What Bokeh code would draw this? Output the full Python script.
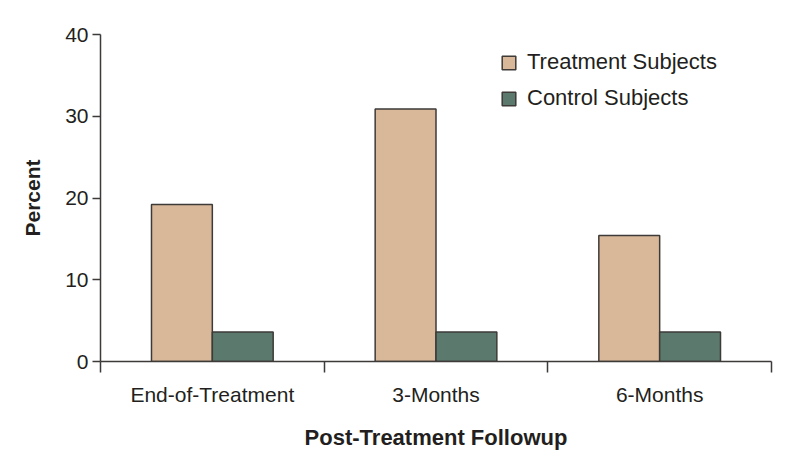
from bokeh.plotting import figure
from bokeh.models import FixedTicker, Legend, LegendItem, ColumnDataSource
from bokeh.embed import file_html
from bokeh.resources import INLINE

categories = ["End-of-Treatment", "3-Months", "6-Months"]
treatment = [19.2, 30.9, 15.4]
control = [3.6, 3.6, 3.6]
y_ticks = [0, 10, 20, 30, 40]

FONT = "Liberation Sans"
TAN = "#D8B898"
GREEN = "#5B796C"
EDGE = "#3d3a38"
TXT = "#231f20"
BAR_W = 0.272

idx = list(range(len(categories)))
centers = [i + 0.5 for i in idx]

p = figure(width=784, height=456, x_range=(0, len(categories)), y_range=(0, 40),
           output_backend="svg", toolbar_location=None,
           min_border_left=100, min_border_right=13, min_border_top=34, min_border_bottom=95)
p.outline_line_color = None
p.xgrid.grid_line_color = None
p.ygrid.grid_line_color = None
p.background_fill_color = "white"
p.border_fill_color = "white"

src_t = ColumnDataSource(dict(x=[c - BAR_W / 2 for c in centers], top=treatment))
src_c = ColumnDataSource(dict(x=[c + BAR_W / 2 for c in centers], top=control))
r_t = p.vbar(x="x", top="top", width=BAR_W, bottom=0, source=src_t,
             fill_color=TAN, line_color=EDGE, line_width=1.5)
r_c = p.vbar(x="x", top="top", width=BAR_W, bottom=0, source=src_c,
             fill_color=GREEN, line_color=EDGE, line_width=1.5)

# x axis: labels at category centres, ticks at boundaries
xa = p.xaxis[0]
xa.ticker = FixedTicker(ticks=centers, minor_ticks=[float(i) for i in range(len(categories) + 1)])
xa.major_label_overrides = {c: lab for c, lab in zip(centers, categories)}
xa.major_tick_line_color = None
xa.major_tick_out = 0
xa.major_tick_in = 0
xa.minor_tick_out = 11
xa.minor_tick_in = 0
xa.minor_tick_line_color = EDGE
xa.minor_tick_line_width = 1.5
xa.axis_line_color = EDGE
xa.axis_line_width = 1.5
xa.major_label_text_font = FONT
xa.major_label_text_font_size = "21px"
xa.major_label_text_color = TXT
xa.major_label_standoff = 10
xa.axis_label = "Post-Treatment Followup"
xa.axis_label_text_font = FONT
xa.axis_label_text_font_style = "bold"
xa.axis_label_text_font_size = "22px"
xa.axis_label_text_color = TXT
xa.axis_label_standoff = 16

ya = p.yaxis[0]
ya.ticker = FixedTicker(ticks=y_ticks)
ya.major_tick_out = 8
ya.major_tick_in = 0
ya.minor_tick_line_color = None
ya.major_tick_line_color = EDGE
ya.major_tick_line_width = 1.5
ya.axis_line_color = EDGE
ya.axis_line_width = 1.5
ya.major_label_text_font = FONT
ya.major_label_text_font_size = "21px"
ya.major_label_text_color = TXT
ya.major_label_standoff = 4
ya.axis_label = "Percent"
ya.axis_label_text_font = FONT
ya.axis_label_text_font_style = "bold"
ya.axis_label_text_font_size = "21px"
ya.axis_label_text_color = TXT
ya.axis_label_standoff = 18

legend = Legend(items=[LegendItem(label="Treatment Subjects", renderers=[r_t]),
                       LegendItem(label="Control Subjects", renderers=[r_c])],
                location=(400, 250), border_line_color=None, background_fill_alpha=0,
                padding=0, margin=0, spacing=10, glyph_width=17, glyph_height=17,
                label_standoff=10, label_text_font=FONT, label_text_font_size="22px",
                label_text_color=TXT, label_height=22)
p.add_layout(legend, "center")

open("out.html", "w").write(file_html(p, INLINE))
